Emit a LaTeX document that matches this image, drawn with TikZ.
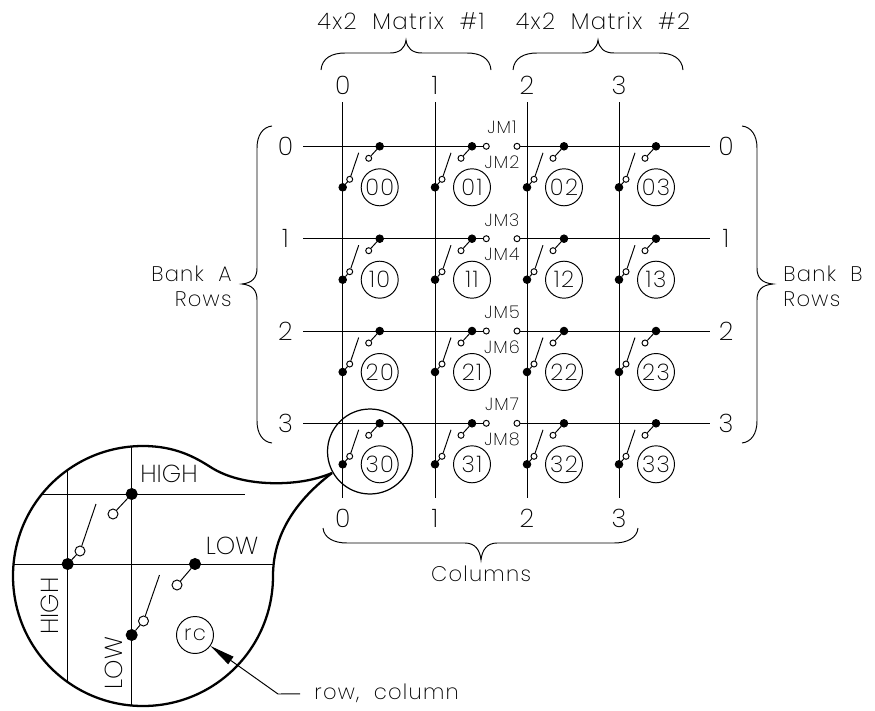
\documentclass[tikz,border=0pt]{standalone}
\usepackage{fontspec}
\setmainfont{Poppins}[UprightFont=* ExtraLight,LetterSpace=6]
\usetikzlibrary{arrows.meta}
\tikzset{
    wire/.style={line width=.55pt},
    heavy/.style={line width=1.3pt},
    shut/.style={circle, fill, draw, inner sep=0pt, minimum size=.15cm},
    free/.style={circle, fill=white, draw, inner sep=0pt, minimum size=.12cm},
    bigshut/.style={circle, fill, draw, inner sep=0pt, minimum size=.22cm},
    bigfree/.style={circle, fill=white, draw, inner sep=0pt, minimum size=.2cm},
    cell/.style={circle, draw, line width=.55pt, inner sep=0pt, minimum size=.74cm, font=\fontsize{13}{14}\selectfont},
    lbl/.style={inner sep=0pt, font=\fontsize{12}{14}\selectfont},
    num/.style={inner sep=0pt, font=\fontsize{14.5}{14}\selectfont},
    jm/.style={inner sep=0pt, font=\fontsize{10}{10}\selectfont},
    big/.style={inner sep=0pt, font=\fontsize{14}{14}\selectfont\addfontfeature{LetterSpace=0}}
}
\begin{document}
\begin{tikzpicture}[x=.02cm, y=-.02cm, wire]
    \useasboundingbox (0, 0) rectangle (875, 710);

    % column lines
    \foreach \c/\x in {0/342.7, 1/435, 2/527, 3/619} {
        \node[num] (top\c) at (\x, 85) {\c};
        \node[num] (bot\c) at (\x, 518) {\c};
        \coordinate (ct\c) at (\x, 102);
        \coordinate (cb\c) at (\x, 498);
        \draw (ct\c) -- (cb\c);
    }

    % row lines, broken at the jumpers
    \foreach \r/\y in {0/146.3, 1/238.7, 2/331, 3/423.3} {
        \node[num] (left\r) at (285.5, \y) {\r};
        \node[num] (right\r) at (726, \y) {\r};
        \coordinate (rl\r) at (303, \y);
        \coordinate (rr\r) at (710, \y);
        \node[free] (ja\r) at (486.3, \y) {};
        \node[free] (jb\r) at (517, \y) {};
        \draw (rl\r) -- (ja\r);
        \draw (jb\r) -- (rr\r);
    }

    % one relay pair per crossing
    \foreach \r/\y in {0/146.3, 1/238.7, 2/331, 3/423.3}
        \foreach \c/\x in {0/342.7, 1/435, 2/527, 3/619} {
            \node[shut] (rs\r\c) at (\x+37, \y) {};
            \node[free] (ro\r\c) at (\x+26, \y+12) {};
            \node[shut] (cs\r\c) at (\x, \y+41) {};
            \node[free] (co\r\c) at (\x+7, \y+33) {};
            \coordinate (tip\r\c) at (\x+16, \y+6.5);
            \node[cell] (n\r\c) at (\x+37, \y+41) {\r\c};
            \draw (rs\r\c) -- (ro\r\c);
            \draw (cs\r\c) -- (co\r\c) -- (tip\r\c);
        }

    % jumper names
    \foreach \n/\y in {1/127, 2/162, 3/220, 4/254.5, 5/312, 6/347, 7/404, 8/439}
        \node[jm] (jm\n) at (502, \y) {JM\n};

    % braces
    \draw (321, 70) .. controls (322, 58) and (332, 53) .. (345, 53) -- (390, 53) .. controls (400, 53) and (405, 48) .. (406, 40) .. controls (407, 48) and (412, 53) .. (422, 53) -- (467, 53) .. controls (480, 53) and (490, 58) .. (491, 70);
    \draw (513, 70) .. controls (514, 58) and (524, 53) .. (537, 53) -- (582, 53) .. controls (592, 53) and (597, 48) .. (598, 40) .. controls (599, 48) and (604, 53) .. (614, 53) -- (659, 53) .. controls (672, 53) and (682, 58) .. (683, 70);
    \draw (323, 528) .. controls (324, 538) and (334, 543) .. (347, 543) -- (465, 543) .. controls (475, 543) and (480, 550) .. (481, 560) .. controls (482, 550) and (487, 543) .. (497, 543) -- (614, 543) .. controls (627, 543) and (637, 538) .. (638, 528);
    \draw (272, 126) .. controls (263, 127) and (257, 135) .. (257, 148) -- (257, 268) .. controls (257, 278) and (252, 283) .. (242, 284) .. controls (252, 285) and (257, 290) .. (257, 300) -- (257, 421) .. controls (257, 434) and (263, 442) .. (272, 443);
    \draw (742, 126) .. controls (751, 127) and (757, 135) .. (757, 148) -- (757, 268) .. controls (757, 278) and (762, 283) .. (773, 284) .. controls (762, 285) and (757, 290) .. (757, 300) -- (757, 421) .. controls (757, 434) and (751, 442) .. (742, 443);

    \node[lbl, font=\fontsize{13}{14}\selectfont] (mat1) at (401, 21) {4x2\ \ Matrix\ \ \#1};
    \node[lbl, font=\fontsize{13}{14}\selectfont] (mat2) at (603, 21) {4x2\ \ Matrix\ \ \#2};
    \node[lbl, align=right, anchor=east] (banka) at (232, 286) {Bank\ \ A\\Rows};
    \node[lbl, align=left, anchor=west] (bankb) at (783, 286) {Bank\ \ B\\Rows};
    \node[lbl] (cols) at (481, 574) {Columns};

    % magnifier
    \node[circle, draw, line width=.7pt, inner sep=0pt, minimum size=1.7cm] (lens) at (370, 451.5) {};
    \draw[heavy] (143, 446) .. controls (71, 446) and (13, 504) .. (13, 576) .. controls (13, 648) and (71, 706) .. (143, 706) .. controls (215, 706) and (273, 648) .. (273, 576) .. controls (273, 540) and (290, 505) .. (332, 473);
    \draw[heavy] (143, 446) .. controls (175, 446) and (195, 457) .. (212, 468) .. controls (235, 482) and (265, 484) .. (285, 483) .. controls (305, 482) and (320, 478) .. (332, 473);

    \coordinate (v1t) at (67.7, 470);
    \coordinate (v1b) at (67.7, 681);
    \coordinate (v2t) at (131.7, 446);
    \coordinate (v2b) at (131.7, 706);
    \coordinate (h1l) at (42, 494);
    \coordinate (h1r) at (245, 494);
    \coordinate (h2l) at (13, 564);
    \coordinate (h2r) at (273, 564);
    \draw (v1t) -- (v1b);
    \draw (v2t) -- (v2b);
    \draw (h1l) -- (h1r);
    \draw (h2l) -- (h2r);

    \node[bigshut] (hs) at (131.7, 494) {};
    \node[bigfree] (ho) at (113, 514) {};
    \node[bigshut] (vs) at (67.7, 564) {};
    \node[bigfree] (vo) at (80, 551) {};
    \coordinate (vtip) at (96, 504);
    \node[bigshut] (ls) at (195, 564) {};
    \node[bigfree] (lo) at (177, 585) {};
    \node[bigshut] (ws) at (131.7, 635) {};
    \node[bigfree] (wo) at (143.5, 621) {};
    \coordinate (wtip) at (159.5, 575);
    \draw (hs) -- (ho);
    \draw (vs) -- (vo) -- (vtip);
    \draw (ls) -- (lo);
    \draw (ws) -- (wo) -- (wtip);

    \node[big] (high1) at (169, 474) {HIGH};
    \node[big] (low1) at (232, 546) {LOW};
    \node[big, rotate=90] (high2) at (50, 606) {HIGH};
    \node[big, rotate=90] (low2) at (114, 663) {LOW};

    \node[cell, font=\fontsize{12}{12}\selectfont] (rc) at (195, 635) {rc};
    \coordinate (elbow) at (278, 694);
    \node[lbl, anchor=west, inner xsep=.28cm] (rowcol) at (300, 693) {row,\ \ column};
    \draw[{Triangle[length=.5cm, width=.18cm]}-] (rc) -- (elbow) -- (rowcol);
\end{tikzpicture}
\end{document}
